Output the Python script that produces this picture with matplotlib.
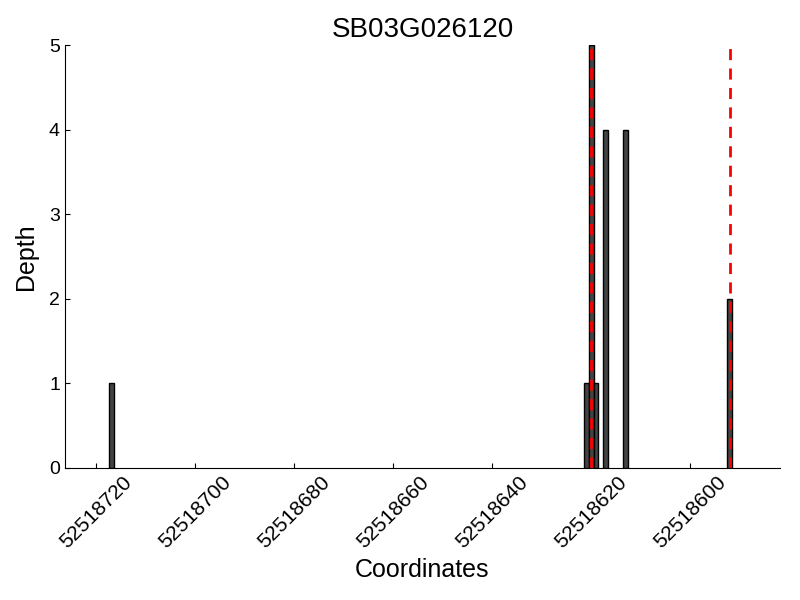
"""
Read depth histogram for SB03G026120 with marked sites.
"""

import matplotlib
matplotlib.use("Agg")
import matplotlib.pyplot as plt

plt.rcParams["font.family"] = ["Liberation Sans", "DejaVu Sans"]

gene = "SB03G026120"
coords = [52518717, 52518621, 52518620, 52518619, 52518617, 52518613, 52518592]
depth = [1, 1, 5, 1, 4, 4, 2]
sites = [52518620, 52518592]
xticks = [52518720, 52518700, 52518680, 52518660, 52518640, 52518620, 52518600]

fig = plt.figure(figsize=(8, 6), dpi=100)
ax = fig.add_axes([0.081, 0.22, 0.894, 0.705])

ax.bar(coords, depth, width=1.0, color="#444444", edgecolor="black", linewidth=1.0, zorder=2)
for s in sites:
    ax.axvline(s, color="red", linestyle="--", linewidth=2, dashes=(4, 3), zorder=3)

ax.set_xlim(52518726.4, 52518581.8)
ax.set_ylim(0, 5)
ax.set_xticks(xticks)
ax.set_xticklabels([str(t) for t in xticks], rotation=45, ha="center", fontsize=15)
ax.set_yticks(range(6))
ax.tick_params(axis="y", labelsize=14, direction="in")
ax.tick_params(axis="x", direction="in")
ax.spines["top"].set_visible(False)
ax.spines["right"].set_visible(False)
ax.set_xlabel("Coordinates", fontsize=18)
ax.set_ylabel("Depth", fontsize=18, labelpad=8)
ax.set_title(gene, fontsize=20)

fig.savefig("out.png", dpi=100)
